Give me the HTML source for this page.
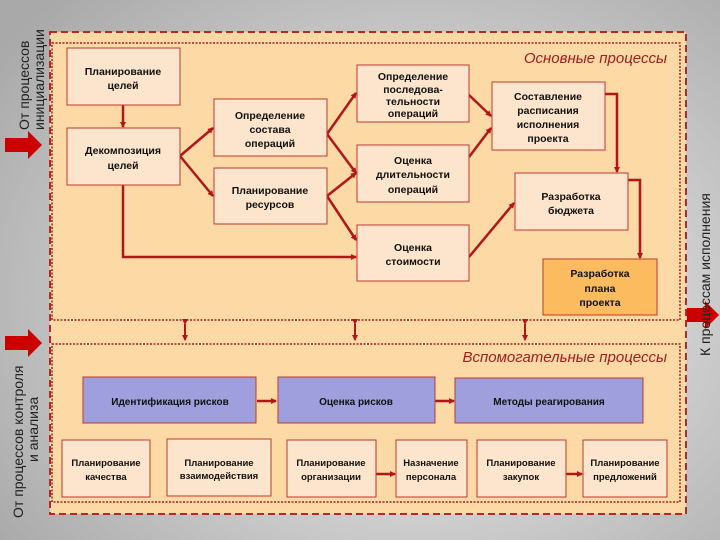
<!DOCTYPE html>
<html><head><meta charset="utf-8"><style>
html,body{margin:0;padding:0;width:720px;height:540px;overflow:hidden}
body{background:radial-gradient(ellipse 520px 420px at 420px 300px,#e2e2e2 0%,#cfcfcf 50%,#a9a9a9 100%);font-family:"Liberation Sans",sans-serif}
svg text{font-family:"Liberation Sans",sans-serif}
</style></head><body>
<svg width="720" height="540" viewBox="0 0 720 540" xmlns="http://www.w3.org/2000/svg">
<defs>
<marker id="a" markerWidth="6" markerHeight="6" refX="5" refY="3" orient="auto" markerUnits="userSpaceOnUse"><path d="M0,0 L6,3 L0,6 z" fill="#b01818"/></marker>
<marker id="b" markerWidth="8" markerHeight="8" refX="7" refY="4" orient="auto" markerUnits="userSpaceOnUse"><path d="M0,0 L8,4 L0,8 z" fill="#b01818"/></marker>
<marker id="s" markerWidth="8" markerHeight="8" refX="1" refY="4" orient="auto" markerUnits="userSpaceOnUse"><path d="M8,0 L0,4 L8,8 z" fill="#b01818"/></marker>
</defs>
<!-- outer panel -->
<rect x="50" y="32" width="636" height="482" fill="#fdd9a6" stroke="#b8282a" stroke-width="2" stroke-dasharray="7,4"/>
<rect x="52" y="43" width="628" height="277" fill="none" stroke="#a02020" stroke-width="1.5" stroke-dasharray="2,1.5"/>
<rect x="52" y="344" width="628" height="158" fill="none" stroke="#a02020" stroke-width="1.5" stroke-dasharray="2,1.5"/>
<text x="667" y="63" font-size="15" font-style="italic" fill="#a02020" text-anchor="end">Основные процессы</text>
<text x="667" y="362" font-size="15" font-style="italic" fill="#a02020" text-anchor="end">Вспомогательные процессы</text>
<!-- double arrows -->
<g stroke="#b01818" stroke-width="2" fill="none">
<line x1="185" y1="324" x2="185" y2="340" marker-end="url(#a)" marker-start="url(#a)"/>
<line x1="355" y1="324" x2="355" y2="340" marker-end="url(#a)" marker-start="url(#a)"/>
<line x1="525" y1="324" x2="525" y2="340" marker-end="url(#a)" marker-start="url(#a)"/>
</g>
<!-- side arrows -->
<path d="M5,138 H28 V131 L42,145 L28,159 V152 H5 z" fill="#cc0000"/>
<path d="M5,336 H28 V329 L42,343 L28,357 V350 H5 z" fill="#cc0000"/>
<path d="M687,308 H705 V301 L719,315 L705,329 V322 H687 z" fill="#cc0000"/>
<g font-size="14" fill="#222">
<text transform="translate(29,130) rotate(-90)">От процессов</text>
<text transform="translate(44,130) rotate(-90)">инициализации</text>
<text transform="translate(23,518) rotate(-90)">От процессов контроля</text>
<text transform="translate(38,462) rotate(-90)">и анализа</text>
<text transform="translate(710,356) rotate(-90)">К процессам исполнения</text>
</g>
<!-- connectors main -->
<g stroke="#b01818" stroke-width="2.5" fill="none">
<line x1="123" y1="105" x2="123" y2="127" marker-end="url(#a)"/>
<line x1="180" y1="156" x2="213" y2="128" marker-end="url(#a)"/>
<line x1="180" y1="156" x2="213" y2="196" marker-end="url(#a)"/>
<line x1="327" y1="134" x2="356" y2="93" marker-end="url(#a)"/>
<line x1="327" y1="134" x2="356" y2="173" marker-end="url(#a)"/>
<line x1="327" y1="196" x2="356" y2="173" marker-end="url(#a)"/>
<line x1="327" y1="196" x2="356" y2="240" marker-end="url(#a)"/>
<polyline points="123,185 123,257 356,257" marker-end="url(#a)"/>
<line x1="469" y1="95" x2="491" y2="116" marker-end="url(#a)"/>
<line x1="469" y1="157" x2="491" y2="128" marker-end="url(#a)"/>
<line x1="469" y1="257" x2="514" y2="203" marker-end="url(#a)"/>
<polyline points="605,94 617,94 617,172" marker-end="url(#a)"/>
<polyline points="628,180 640,180 640,258" marker-end="url(#a)"/>
<line x1="257" y1="401" x2="276" y2="401" marker-end="url(#a)"/>
<line x1="435" y1="401" x2="454" y2="401" marker-end="url(#a)"/>
<line x1="376" y1="474" x2="395" y2="474" marker-end="url(#a)"/>
<line x1="566" y1="474" x2="582" y2="474" marker-end="url(#a)"/>
</g>
<!-- boxes -->
<g fill="#fde4cc" stroke="#c0392b" stroke-width="1">
<rect x="67" y="48" width="113" height="57"/>
<rect x="67" y="128" width="113" height="57"/>
<rect x="214" y="99" width="113" height="57"/>
<rect x="214" y="168" width="113" height="56"/>
<rect x="357" y="65" width="112" height="57"/>
<rect x="357" y="145" width="112" height="57"/>
<rect x="357" y="225" width="112" height="56"/>
<rect x="492" y="82" width="113" height="68"/>
<rect x="515" y="173" width="113" height="57"/>
<rect x="543" y="259" width="114" height="56" fill="#fbbb5e"/>
<rect x="62" y="440" width="88" height="57"/>
<rect x="167" y="439" width="104" height="57"/>
<rect x="287" y="440" width="89" height="57"/>
<rect x="396" y="440" width="71" height="57"/>
<rect x="477" y="440" width="89" height="57"/>
<rect x="583" y="440" width="84" height="57"/>
</g>
<g fill="#9f9fdd" stroke="#c0392b" stroke-width="1">
<rect x="83" y="377" width="173" height="46"/>
<rect x="278" y="377" width="157" height="46"/>
<rect x="455" y="378" width="188" height="45"/>
</g>
<g font-size="10.5" font-weight="bold" fill="#111" text-anchor="middle">
<text x="123" y="75">Планирование</text><text x="123" y="89">целей</text>
<text x="123" y="154">Декомпозиция</text><text x="123" y="169">целей</text>
<text x="270" y="119">Определение</text><text x="270" y="133">состава</text><text x="270" y="147">операций</text>
<text x="270" y="194">Планирование</text><text x="270" y="208">ресурсов</text>
<text x="413" y="80">Определение</text><text x="413" y="93">последова-</text><text x="413" y="105">тельности</text><text x="413" y="117">операций</text>
<text x="413" y="164">Оценка</text><text x="413" y="178">длительности</text><text x="413" y="193">операций</text>
<text x="413" y="251">Оценка</text><text x="413" y="265">стоимости</text>
<text x="548" y="100">Составление</text><text x="548" y="114">расписания</text><text x="548" y="128">исполнения</text><text x="548" y="142">проекта</text>
<text x="571" y="200">Разработка</text><text x="571" y="214">бюджета</text>
<text x="600" y="277">Разработка</text><text x="600" y="292">плана</text><text x="600" y="306">проекта</text>
<g font-size="10">
<text x="170" y="405">Идентификация рисков</text>
<text x="356" y="405">Оценка рисков</text>
<text x="549" y="405">Методы реагирования</text>
</g>
<g font-size="9.5">
<text x="106" y="466">Планирование</text><text x="106" y="480">качества</text>
<text x="219" y="466">Планирование</text><text x="219" y="479">взаимодействия</text>
<text x="331" y="466">Планирование</text><text x="331" y="480">организации</text>
<text x="431" y="466">Назначение</text><text x="431" y="480">персонала</text>
<text x="521" y="466">Планирование</text><text x="521" y="480">закупок</text>
<text x="625" y="466">Планирование</text><text x="625" y="480">предложений</text>
</g>
</g>
</svg>
</body></html>
